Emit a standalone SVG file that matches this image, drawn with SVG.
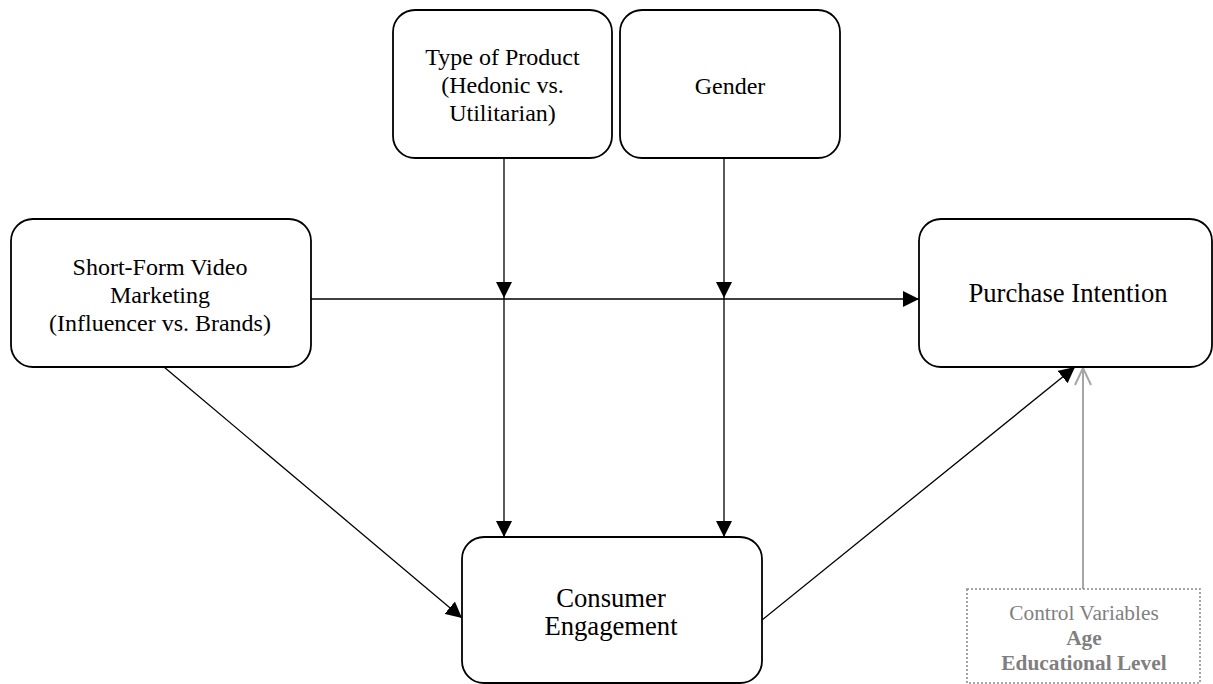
<svg xmlns="http://www.w3.org/2000/svg" width="1213" height="684" viewBox="0 0 1213 684">
<style>
.box{fill:#fff;stroke:#000;stroke-width:1.8}
.t{font-family:"Liberation Serif","Times New Roman",serif;fill:#000;text-anchor:middle}
.s24{font-size:24px}
.s27{font-size:26.67px}
.ctl{font-family:"Liberation Serif","Times New Roman",serif;fill:#7f7f7f;text-anchor:middle;font-size:21.33px}
.ln{stroke:#000;stroke-width:1.3;fill:none}
</style>
<defs>
<marker id="ah" markerUnits="userSpaceOnUse" markerWidth="17" markerHeight="16" refX="16" refY="8" orient="auto" viewBox="0 0 17 16">
<path d="M0,0 L16,8 L0,16 Z" fill="#000"/>
</marker>
<marker id="oh" markerUnits="userSpaceOnUse" markerWidth="20" markerHeight="20" refX="18" refY="10" orient="auto" viewBox="0 0 20 20">
<path d="M1,2 L18,10 L1,18" fill="none" stroke="#a6a6a6" stroke-width="2"/>
</marker>
</defs>
<rect width="1213" height="684" fill="#fff"/>
<g id="connectors">
<line class="ln" x1="311" y1="299" x2="919" y2="299" marker-end="url(#ah)"/>
<line class="ln" x1="504" y1="158" x2="504" y2="298" marker-end="url(#ah)"/>
<line class="ln" x1="504" y1="298" x2="504" y2="537" marker-end="url(#ah)"/>
<line class="ln" x1="724" y1="158" x2="724" y2="298" marker-end="url(#ah)"/>
<line class="ln" x1="724" y1="298" x2="724" y2="537" marker-end="url(#ah)"/>
<line class="ln" x1="164" y1="367" x2="462" y2="618" marker-end="url(#ah)"/>
<line class="ln" x1="762" y1="620" x2="1075" y2="367" marker-end="url(#ah)"/>
<line x1="1083" y1="589" x2="1083" y2="368" stroke="#a6a6a6" stroke-width="2" marker-end="url(#oh)"/>
</g>
<g id="type-of-product">
<rect class="box" x="393" y="10" width="219" height="148" rx="22"/>
<text class="t s24" x="502.5" y="65">Type of Product</text>
<text class="t s24" x="502.5" y="93">(Hedonic vs.</text>
<text class="t s24" x="502.5" y="121">Utilitarian)</text>
</g>
<g id="gender">
<rect class="box" x="620" y="10" width="220" height="148" rx="22"/>
<text class="t s24" x="730" y="94">Gender</text>
</g>
<g id="short-form-video">
<rect class="box" x="11" y="219" width="300" height="148" rx="22"/>
<text class="t s24" x="160" y="275">Short-Form Video</text>
<text class="t s24" x="160" y="303">Marketing</text>
<text class="t s24" x="160" y="331">(Influencer vs. Brands)</text>
</g>
<g id="purchase-intention">
<rect class="box" x="919" y="219" width="293" height="148" rx="22"/>
<text class="t s27" x="1068" y="302">Purchase Intention</text>
</g>
<g id="consumer-engagement">
<rect class="box" x="462" y="537" width="300" height="146" rx="22"/>
<text class="t s27" x="611" y="607">Consumer</text>
<text class="t s27" x="611" y="635">Engagement</text>
</g>
<g id="control-variables">
<rect x="967" y="589" width="233" height="94" fill="#fff" stroke="#8c8c8c" stroke-width="1.6" stroke-dasharray="2 2"/>
<text class="ctl" x="1084" y="620">Control Variables</text>
<text class="ctl" x="1084" y="645" font-weight="bold">Age</text>
<text class="ctl" x="1084" y="670" font-weight="bold">Educational Level</text>
</g>
</svg>
